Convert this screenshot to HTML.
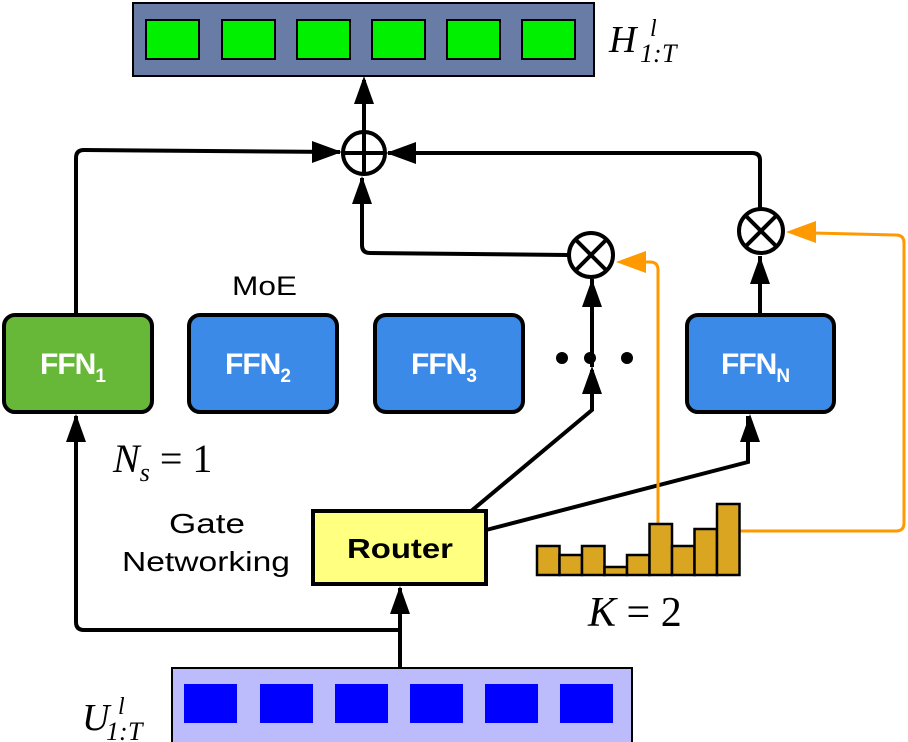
<!DOCTYPE html>
<html><head><style>
body{margin:0;background:#fff}
svg{display:block}
.f{font-family:"Liberation Sans",sans-serif}
.m{font-family:"Liberation Serif",serif;font-style:italic}
</style></head><body>
<svg width="908" height="742" viewBox="0 0 908 742" xmlns="http://www.w3.org/2000/svg">
<!-- top bar -->
<rect x="133" y="3" width="461" height="73" fill="#687ca6" stroke="#000" stroke-width="2"/>
<g fill="#00f000" stroke="#000" stroke-width="2">
<rect x="146" y="20" width="53" height="39"/><rect x="222" y="20" width="53" height="39"/><rect x="297" y="20" width="53" height="39"/><rect x="372" y="20" width="53" height="39"/><rect x="447" y="20" width="53" height="39"/><rect x="522" y="20" width="53" height="39"/>
</g>
<text x="609" y="52" class="m" font-size="38">H</text><text x="650" y="36" class="m" font-size="24">l</text><text x="640" y="62" class="m" font-size="26" font-style="normal">1:</text><text x="662" y="62" class="m" font-size="26">T</text>
<!-- black lines -->
<g fill="none" stroke="#000" stroke-width="4">
<path d="M364,131 V80" />
<path d="M76,316 V158 Q76,150 84,150 L340,152" />
<path d="M760,208 V160 Q760,153 752,153 L388,153" />
<path d="M568,255 L370,253 Q362,253 362,245 L362,178" />
<path d="M592,367 V279" />
<path d="M470,512 L592,410 V370" />
<path d="M486,530 L748,462 V416" />
<path d="M760,315 V256" />
<path d="M400,668 V630 L84,630 Q76,630 76,622 V416" />
<path d="M400,630 V588" />
</g>
<g fill="#000">
<path d="M364,76 l-10,28 h20z"/>
<path d="M342,152 l-30,-11 v22z"/>
<path d="M386,153 l30,-11 v22z"/>
<path d="M362,176 l-10,28 h20z"/>
<path d="M592,279 l-10,28 h20z"/>
<path d="M592,366 l-10,28 h20z"/>
<path d="M760,256 l-10,28 h20z"/>
<path d="M750,414 l-10,28 h20z"/>
<path d="M76,414 l-10,28 h20z"/>
<path d="M400,586 l-10,28 h20z"/>
</g>
<!-- circles -->
<g fill="#fff" stroke="#000" stroke-width="4">
<circle cx="364" cy="153" r="21"/>
<circle cx="591" cy="255" r="22"/>
<circle cx="761" cy="231" r="22"/>
</g>
<g stroke="#000" stroke-width="4">
<path d="M364,132 V174 M343,153 H385"/>
<path d="M576,240 L606,270 M606,240 L576,270"/>
<path d="M746,216 L776,246 M776,216 L746,246"/>
</g>
<!-- orange -->
<g fill="none" stroke="#ff9900" stroke-width="3">
<path d="M643,262 L650,262 Q658,262 658,270 V524"/>
<path d="M813,233 L896,235 Q904,235 904,243 V523 Q904,531 896,531 L740,531 Q733,531 733,538"/>
</g>
<g fill="#ff9900">
<path d="M616,262 l30,-11 v22z"/>
<path d="M786,232 l30,-11 v22z"/>
</g>
<!-- FFN boxes -->
<g stroke="#000" stroke-width="4">
<rect x="4" y="315" width="148" height="97" rx="11" fill="#67b838"/>
<rect x="189" y="315" width="148" height="97" rx="11" fill="#3b8ae8"/>
<rect x="375" y="315" width="148" height="97" rx="11" fill="#3b8ae8"/>
<rect x="687" y="315" width="147" height="97" rx="11" fill="#3b8ae8"/>
</g>
<g class="f" fill="#fff" font-weight="bold" font-size="30" letter-spacing="-1">
<text x="40" y="374">FFN<tspan font-size="19" dy="8">1</tspan></text>
<text x="225" y="374">FFN<tspan font-size="19" dy="8">2</tspan></text>
<text x="411" y="374">FFN<tspan font-size="19" dy="8">3</tspan></text>
<text x="721" y="374">FFN<tspan font-size="19" dy="8">N</tspan></text>
</g>
<g fill="#000"><circle cx="562" cy="358" r="6"/><circle cx="590" cy="358" r="6"/><circle cx="627" cy="358" r="6"/></g>
<text x="232" y="295" class="f" font-size="27" textLength="65" lengthAdjust="spacingAndGlyphs">MoE</text>
<text x="113" y="472" class="m" font-size="40">N<tspan font-size="26" dy="9">s</tspan><tspan dy="-9" font-style="normal"> = 1</tspan></text>
<text x="169" y="533" class="f" font-size="28" textLength="76" lengthAdjust="spacingAndGlyphs">Gate</text>
<text x="122" y="571" class="f" font-size="28" textLength="168" lengthAdjust="spacingAndGlyphs">Networking</text>
<!-- router -->
<rect x="313" y="511" width="173" height="73" fill="#ffff80" stroke="#000" stroke-width="4"/>
<text x="347" y="558" class="f" font-size="28" font-weight="bold" textLength="106" lengthAdjust="spacingAndGlyphs">Router</text>
<!-- histogram -->
<g fill="#daa520" stroke="#000" stroke-width="2.5">
<rect x="537" y="546" width="22.5" height="29"/>
<rect x="559.5" y="555" width="22.5" height="20"/>
<rect x="582" y="546" width="22.5" height="29"/>
<rect x="604.5" y="567" width="22.5" height="8"/>
<rect x="627" y="555" width="22.5" height="20"/>
<rect x="649.5" y="524" width="22.5" height="51"/>
<rect x="672" y="546" width="22.5" height="29"/>
<rect x="694.5" y="529" width="22.5" height="46"/>
<rect x="717" y="504" width="22.5" height="71"/>
</g>
<text x="588" y="626" class="m" font-size="42">K<tspan font-style="normal"> = 2</tspan></text>
<!-- bottom bar -->
<rect x="172" y="668" width="460" height="76" fill="#bcbcfc" stroke="#000" stroke-width="2"/>
<g fill="#0000ff">
<rect x="184" y="684" width="53" height="39"/><rect x="260" y="684" width="53" height="39"/><rect x="335" y="684" width="53" height="39"/><rect x="410" y="684" width="53" height="39"/><rect x="485" y="684" width="53" height="39"/><rect x="560" y="684" width="53" height="39"/>
</g>
<text x="82" y="730" class="m" font-size="38">U</text><text x="118" y="714" class="m" font-size="24">l</text><text x="106" y="740" class="m" font-size="26" font-style="normal">1:</text><text x="128" y="740" class="m" font-size="26">T</text>
</svg>
</body></html>
